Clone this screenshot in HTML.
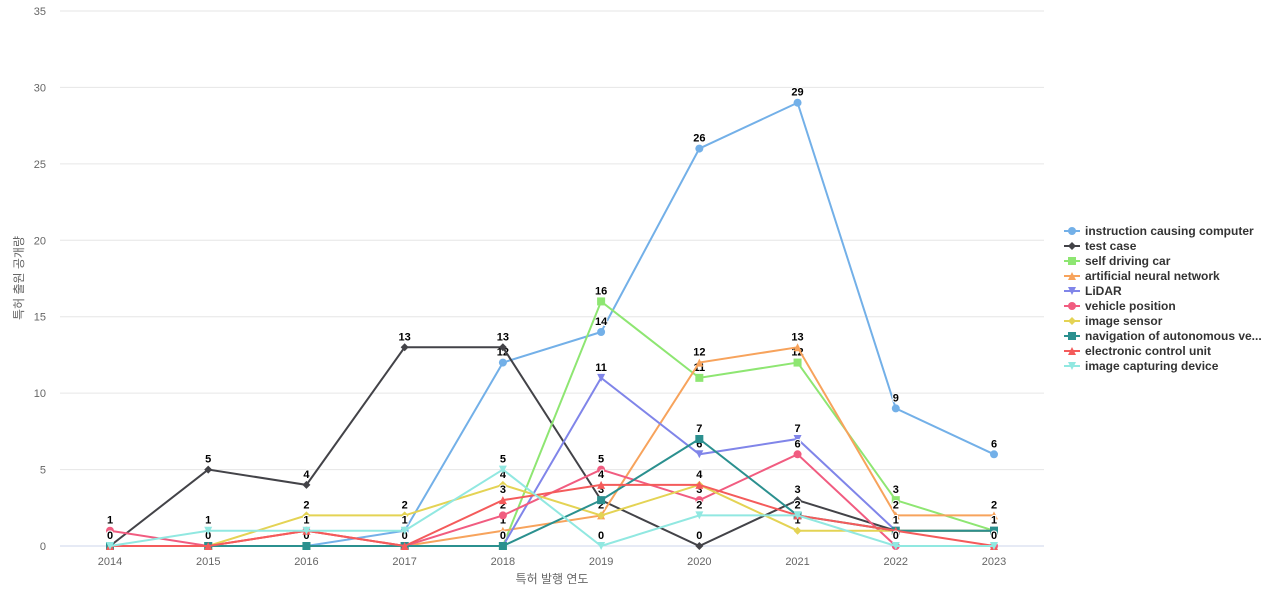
<!DOCTYPE html>
<html><head><meta charset="utf-8"><style>
body{margin:0;background:#fff;font-family:"Liberation Sans","Noto Sans CJK KR",sans-serif}
svg text{font-family:"Liberation Sans","Noto Sans CJK KR",sans-serif}
</style></head><body>
<svg id="c" width="1280" height="600"></svg>
<script>
const years=[2014,2015,2016,2017,2018,2019,2020,2021,2022,2023];
const yTicks=[0,5,10,15,20,25,30,35];
const seriesNames=["instruction causing computer","test case","self driving car","artificial neural network","LiDAR","vehicle position","image sensor","navigation of autonomous ve...","electronic control unit","image capturing device"];
const sInstruction=[0,0,0,1,12,14,26,29,9,6];
const sTestCase=[0,5,4,13,13,3,0,3,1,1];
const sSelfDriving=[0,0,0,0,0,16,11,12,3,1];
const sANN=[0,0,1,0,1,2,12,13,2,2];
const sLidar=[0,0,0,0,0,11,6,7,1,1];
const sVehicle=[1,0,1,0,2,5,3,6,0,0];
const sImageSensor=[0,0,2,2,4,2,4,1,1,1];
const sNavigation=[0,0,0,0,0,3,7,2,1,1];
const sECU=[0,0,1,0,3,4,4,2,1,0];
const sImageCapture=[0,1,1,1,5,0,2,2,0,0];
const seriesData=[sInstruction,sTestCase,sSelfDriving,sANN,sLidar,sVehicle,sImageSensor,sNavigation,sECU,sImageCapture];
const colors=["#73b0e8","#434348","#8ee672","#f7a35c","#8085e9","#f15c80","#e4d354","#2b908f","#f45b5b","#91e8e1"];
const shapes=["circle","diamond","square","triangle","tri-down","circle","diamond","square","triangle","tri-down"];
const NS="http://www.w3.org/2000/svg";
const svg=document.getElementById('c');
const X0=110,X1=994,Y0=546,Y1=11;
const xs=i=>X0+(X1-X0)*i/(years.length-1);
const ys=v=>Y0-(Y0-Y1)*v/35;
function mk(t,a,p){const e=document.createElementNS(NS,t);for(const k in a)e.setAttribute(k,a[k]);(p||svg).appendChild(e);return e;}
yTicks.forEach(t=>{
  const g=mk('line',{x1:60,x2:1044,y1:ys(t),y2:ys(t),stroke:t===0?'#ccd6eb':'#e6e6e6'});
  
  
  const l=mk('text',{x:46,y:ys(t)+4,'text-anchor':'end','font-size':11,fill:'#666'});l.textContent=t;
  
  
});
years.forEach((y,i)=>{
  const l=mk('text',{x:xs(i),y:565,'text-anchor':'middle','font-size':11,fill:'#666'});l.textContent=y;
  
  
});
const xt=mk('text',{x:552,y:583,'text-anchor':'middle','font-size':12,fill:'#666'});xt.textContent='특허 발행 연도';


const yt=mk('text',{x:23,y:278,'text-anchor':'middle','font-size':12,fill:'#666',transform:'rotate(-90 23 278)'});yt.textContent='특허 출원 공개량';


function marker(shape,x,y,c,p){
  let e;
  if(shape==='circle')e=mk('circle',{cx:x,cy:y,r:4,fill:c},p);
  else if(shape==='square')e=mk('rect',{x:x-4,y:y-4,width:8,height:8,fill:c},p);
  else if(shape==='diamond')e=mk('path',{d:`M${x} ${y-4}L${x+4} ${y}L${x} ${y+4}L${x-4} ${y}Z`,fill:c},p);
  else if(shape==='triangle')e=mk('path',{d:`M${x} ${y-4}L${x+4} ${y+4}L${x-4} ${y+4}Z`,fill:c},p);
  else e=mk('path',{d:`M${x-4} ${y-4}L${x+4} ${y-4}L${x} ${y+4}Z`,fill:c},p);
  return e;
}
seriesData.forEach((d,s)=>{
  const g=mk('g',{});
  
  
  const pl=mk('polyline',{points:d.map((v,i)=>xs(i)+','+ys(v)).join(' '),fill:'none',stroke:colors[s],'stroke-width':2},g);
  
  
  d.forEach((v,i)=>{
    const m=marker(shapes[s],xs(i),ys(v),colors[s],g);
    
    
    const t=mk('text',{x:xs(i),y:ys(v)-7,'text-anchor':'middle','font-size':11,'font-weight':'bold',fill:'#000',stroke:'#fff','stroke-width':2,'paint-order':'stroke'},g);t.textContent=v;
    
    
  });
});
seriesNames.forEach((n,s)=>{
  const y=231+s*15;
  const g=mk('g',{});
  
  
  mk('line',{x1:1064,x2:1080,y1:y,y2:y,stroke:colors[s],'stroke-width':2},g);
  marker(shapes[s],1072,y,colors[s],g);
  const t=mk('text',{x:1085,y:y+4,'font-size':12,'font-weight':'bold',fill:'#333'},g);t.textContent=n;
});
</script>
</body></html>
